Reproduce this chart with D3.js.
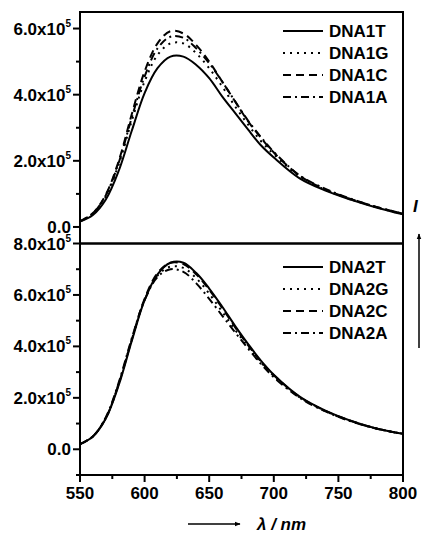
<!DOCTYPE html>
<html>
<head>
<meta charset="utf-8">
<script src="https://cdn.jsdelivr.net/npm/d3@7"></script>
<style>
  body { margin: 0; background: #fff; }
  svg { display: block; }
  text { font-family: Arial, "Liberation Sans", sans-serif; font-weight: bold; }
</style>
</head>
<body>
<div id="chart"></div>
<script>
// wavelengths (nm)
var wavelengths = [550, 560, 570, 580, 590, 600, 610, 620, 630, 640, 650, 660, 670, 680, 690, 700, 720, 740, 760, 780, 800];

// intensities in units of 1e5
var dna1T = [0.16, 0.36, 0.83, 1.7, 2.9, 4.05, 4.8, 5.15, 5.15, 4.9, 4.5, 3.95, 3.45, 2.95, 2.47, 2.1, 1.47, 1.1, 0.82, 0.58, 0.38];
var dna1G = [0.17, 0.4, 0.92, 1.9, 3.2, 4.4, 5.2, 5.55, 5.55, 5.25, 4.8, 4.25, 3.65, 3.1, 2.6, 2.2, 1.52, 1.12, 0.83, 0.59, 0.39];
var dna1C = [0.17, 0.42, 0.98, 2.0, 3.4, 4.7, 5.55, 5.92, 5.85, 5.5, 5.0, 4.4, 3.8, 3.2, 2.7, 2.25, 1.55, 1.13, 0.84, 0.6, 0.4];
var dna1A = [0.17, 0.41, 0.96, 1.95, 3.3, 4.55, 5.4, 5.75, 5.72, 5.4, 4.95, 4.4, 3.8, 3.22, 2.72, 2.27, 1.56, 1.15, 0.85, 0.6, 0.4];

var dna2T = [0.2, 0.5, 1.2, 2.5, 4.2, 5.8, 6.8, 7.25, 7.25, 6.85, 6.25, 5.55, 4.8, 4.1, 3.45, 2.9, 2.05, 1.5, 1.1, 0.8, 0.6];
var dna2G = [0.2, 0.5, 1.22, 2.55, 4.25, 5.8, 6.75, 7.1, 7.05, 6.65, 6.05, 5.35, 4.65, 4.0, 3.38, 2.85, 2.02, 1.48, 1.09, 0.8, 0.6];
var dna2C = [0.2, 0.5, 1.22, 2.55, 4.25, 5.85, 6.85, 7.25, 7.2, 6.8, 6.2, 5.5, 4.75, 4.05, 3.42, 2.88, 2.04, 1.49, 1.1, 0.8, 0.6];
var dna2A = [0.2, 0.5, 1.25, 2.6, 4.3, 5.8, 6.7, 7.0, 6.9, 6.45, 5.85, 5.2, 4.55, 3.92, 3.32, 2.8, 2.0, 1.47, 1.08, 0.8, 0.6];

var names1 = ['DNA1T', 'DNA1G', 'DNA1C', 'DNA1A'];
var names2 = ['DNA2T', 'DNA2G', 'DNA2C', 'DNA2A'];

var xMajor = [550, 600, 650, 700, 750, 800];
var yMajor1 = [0, 2, 4, 6];
var yMajor2 = [0, 2, 4, 6, 8];

var dashes = [null, '2,5', '8,5', '8,4,2,4'];

var dim = {
    'width': 422,
    'height': 533
}
var left = 80, right = 403, top1 = 12, mid = 243.5, bottom = 475;

var svg = d3.select('#chart').append('svg')
    .attr('width', dim.width)
    .attr('height', dim.height);

var x = d3.scaleLinear().domain([550, 800]).range([left, right]);
var y1 = d3.scaleLinear().domain([-0.5, 6.5]).range([mid, top1]);
var y2 = d3.scaleLinear().domain([-1, 8]).range([bottom, mid]);

function drawPanel(series, names, y, yMajor, legendTop) {
    var g = svg.append('g');
    var line = d3.line()
        .x((d, i) => x(wavelengths[i]))
        .y(d => y(d))
        .curve(d3.curveCatmullRom);

    g.selectAll('path.curve')
        .data(series).enter()
        .append('path')
        .attr('class', 'curve')
        .attr('d', line)
        .attr('fill', 'none')
        .attr('stroke', '#000')
        .attr('stroke-width', 2)
        .attr('stroke-dasharray', (d, i) => dashes[i]);

    // y ticks
    var yr = y.domain();
    var minors = d3.range(Math.ceil(yr[0]), yr[1] + 0.001, 1).filter(v => yMajor.indexOf(v) < 0);
    g.selectAll('line.ymin').data(minors).enter().append('line')
        .attr('x1', left - 4).attr('x2', left)
        .attr('y1', d => y(d)).attr('y2', d => y(d))
        .attr('stroke', '#000').attr('stroke-width', 2);
    g.selectAll('line.ymaj').data(yMajor).enter().append('line')
        .attr('x1', left - 7).attr('x2', left)
        .attr('y1', d => y(d)).attr('y2', d => y(d))
        .attr('stroke', '#000').attr('stroke-width', 2);

    var labels = g.selectAll('text.ylab').data(yMajor).enter().append('text')
        .attr('class', 'ylab')
        .attr('x', left - 9)
        .attr('y', d => y(d) + 6)
        .attr('text-anchor', 'end')
        .attr('font-size', 17);
    labels.each(function (d) {
        var t = d3.select(this);
        if (d === 0) {
            t.text('0.0');
        } else {
            t.text(d.toFixed(1) + 'x10');
            t.append('tspan').attr('dy', -8).attr('font-size', 10).text('5');
        }
    });

    // legend
    var lg = g.selectAll('g.leg').data(names).enter().append('g')
        .attr('transform', (d, i) => `translate(0, ${legendTop + i * 22})`);
    lg.append('line')
        .attr('x1', 283).attr('x2', 323)
        .attr('stroke', '#000').attr('stroke-width', 2)
        .attr('stroke-dasharray', (d, i) => dashes[i]);
    lg.append('text')
        .attr('x', 329).attr('y', 6)
        .attr('font-size', 17)
        .text(d => d);
}

drawPanel([dna1T, dna1G, dna1C, dna1A], names1, y1, yMajor1, 31);
drawPanel([dna2T, dna2G, dna2C, dna2A], names2, y2, yMajor2, 267);

// frames
[[top1, mid], [mid, bottom]].forEach(function (p) {
    svg.append('rect')
        .attr('x', left).attr('y', p[0])
        .attr('width', right - left).attr('height', p[1] - p[0])
        .attr('fill', 'none').attr('stroke', '#000').attr('stroke-width', 2);
});

// x axis
var xMinor = d3.range(575, 800, 50);
svg.selectAll('line.xmin').data(xMinor).enter().append('line')
    .attr('x1', d => x(d)).attr('x2', d => x(d))
    .attr('y1', bottom).attr('y2', bottom + 4)
    .attr('stroke', '#000').attr('stroke-width', 2);
svg.selectAll('line.xmaj').data(xMajor).enter().append('line')
    .attr('x1', d => x(d)).attr('x2', d => x(d))
    .attr('y1', bottom).attr('y2', bottom + 7)
    .attr('stroke', '#000').attr('stroke-width', 2);
svg.selectAll('text.xlab').data(xMajor).enter().append('text')
    .attr('x', d => x(d))
    .attr('y', bottom + 24)
    .attr('text-anchor', 'middle')
    .attr('font-size', 17)
    .text(d => d);

// axis titles with arrows
svg.append('defs').append('marker')
    .attr('id', 'arr')
    .attr('viewBox', '0 0 10 10')
    .attr('refX', 9).attr('refY', 5)
    .attr('markerWidth', 4).attr('markerHeight', 4)
    .attr('orient', 'auto')
    .append('path').attr('d', 'M0,1 L10,5 L0,9 Z').attr('fill', '#000');

svg.append('line')
    .attr('x1', 188).attr('x2', 240)
    .attr('y1', 524).attr('y2', 524)
    .attr('stroke', '#000').attr('stroke-width', 1.5)
    .attr('marker-end', 'url(#arr)');
svg.append('text')
    .attr('x', 257).attr('y', 530)
    .attr('font-size', 17)
    .attr('font-style', 'italic')
    .text('\u03bb / nm');

svg.append('line')
    .attr('x1', 419).attr('x2', 419)
    .attr('y1', 348).attr('y2', 234)
    .attr('stroke', '#000').attr('stroke-width', 1.5)
    .attr('marker-end', 'url(#arr)');
svg.append('text')
    .attr('x', 413).attr('y', 212)
    .attr('font-size', 17)
    .attr('font-style', 'italic')
    .text('I');
</script>
</body>
</html>
